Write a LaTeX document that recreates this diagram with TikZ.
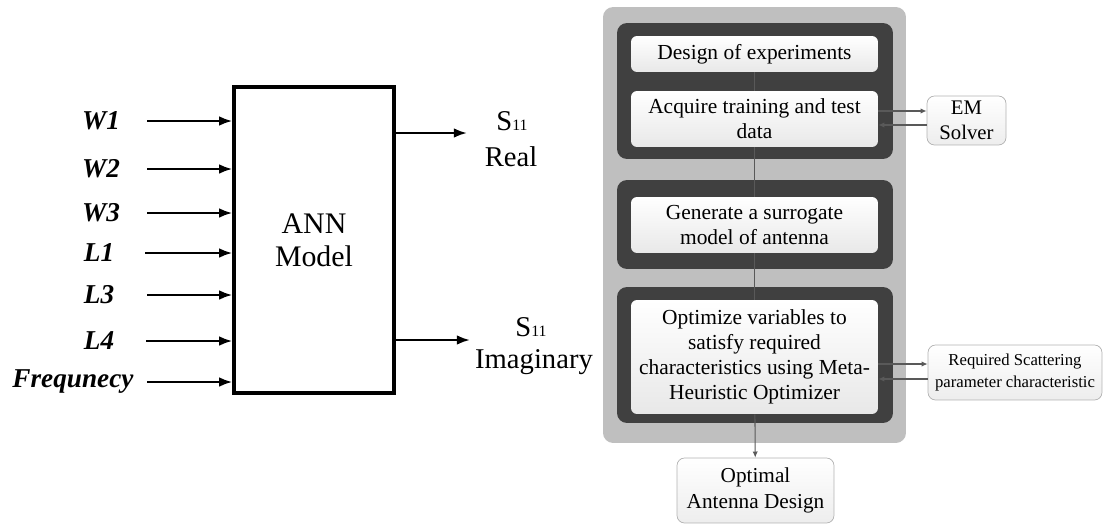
\documentclass[tikz,border=0pt]{standalone}
\usepackage{fontspec}
\setmainfont{Liberation Serif}
\usetikzlibrary{arrows.meta}

\begin{document}
\begin{tikzpicture}[x=0.02cm, y=-0.02cm]
			\tikzset{fleche/.style={>={Latex[length=7.5pt, width=5.5pt]}, ->, line width=1.3pt},
				entree/.style={font=\fontsize{15.5}{18}\selectfont\bfseries\itshape},
				sortie/.style={font=\fontsize{16.3}{19}\selectfont},
				panneau/.style={rectangle, rounded corners=0.2cm, fill=black!25, inner sep=0pt},
				bloc/.style={rectangle, rounded corners=0.2cm, fill=black!75, inner sep=0pt},
				etape/.style={rectangle, rounded corners=0.12cm, top color=white, bottom color=black!9, inner sep=0pt, minimum width=4.94cm, align=center, font=\fontsize{12.2}{14.2}\selectfont},
				externe/.style={rectangle, rounded corners=0.15cm, draw=black!30, top color=white, bottom color=black!7, inner sep=0pt, align=center},
				lien/.style={draw=black!65, line width=0.6pt},
				petite/.style={>={Latex[length=3.5pt, width=3pt]}, ->, draw=black!65, line width=0.6pt}};
			\useasboundingbox (0,0) rectangle (1103,524);

			% modele ANN
			\node[draw, line width=2.2pt, minimum width=3.19cm, minimum height=6.13cm, align=center, font=\fontsize{17}{18.7}\selectfont] (ann) at (314,240) {ANN\\Model};

			\node[entree] (lW1) at (101,121) {W1};
			\node[entree] (lW2) at (101,169) {W2};
			\node[entree] (lW3) at (101,213) {W3};
			\node[entree] (lL1) at ( 99,253) {L1};
			\node[entree] (lL3) at ( 99,295) {L3};
			\node[entree] (lL4) at ( 99,341) {L4};
			\node[entree] (lF)  at ( 73,382) {Frequnecy};

			\coordinate (dW1) at (147,121);
			\coordinate (dW2) at (147,169);
			\coordinate (dW3) at (147,213);
			\coordinate (dL1) at (145,253);
			\coordinate (dL3) at (147,295);
			\coordinate (dL4) at (146,341);
			\coordinate (dF)  at (147,382);

			\draw[fleche] (dW1) -- (dW1 -| ann.west);
			\draw[fleche] (dW2) -- (dW2 -| ann.west);
			\draw[fleche] (dW3) -- (dW3 -| ann.west);
			\draw[fleche] (dL1) -- (dL1 -| ann.west);
			\draw[fleche] (dL3) -- (dL3 -| ann.west);
			\draw[fleche] (dL4) -- (dL4 -| ann.west);
			\draw[fleche] (dF) -- (dF -| ann.west);

			\coordinate (sRe) at (467,133);
			\coordinate (sIm) at (470,340);
			\draw[fleche] (sRe -| ann.east) -- (sRe);
			\draw[fleche] (sIm -| ann.east) -- (sIm);

			\node[sortie] (s1) at (512,121) {S\lower0.5pt\hbox{\fontsize{9}{9}\selectfont 11}};
			\node[sortie] (re) at (511,157) {Real};
			\node[sortie] (s2) at (531,327) {S\lower0.5pt\hbox{\fontsize{9}{9}\selectfont 11}};
			\node[sortie] (im) at (534,362) {Imaginary};

			% organigramme
			\node[panneau, minimum width=6.06cm, minimum height=8.72cm] (pan) at (754.5,225) {};
			\node[bloc, minimum width=5.52cm, minimum height=2.72cm] (b1) at (755,91) {};
			\node[bloc, minimum width=5.52cm, minimum height=1.78cm] (b2) at (755,224.5) {};
			\node[bloc, minimum width=5.52cm, minimum height=2.72cm] (b3) at (755,355) {};

			\node[etape, minimum height=0.72cm] (doe) at (754.5,54) {Design of experiments};
			\node[etape, minimum height=1.12cm] (acq) at (754.5,119) {Acquire training and test\\data};
			\node[etape, minimum height=1.12cm] (gen) at (754.5,225) {Generate a surrogate\\model of antenna};
			\node[etape, minimum height=2.28cm] (opt) at (754.5,357) {Optimize variables to\\satisfy required\\characteristics using Meta-\\Heuristic Optimizer};

			\node[externe, minimum width=1.58cm, minimum height=0.98cm, font=\fontsize{11.8}{14}\selectfont] (em) at (966.5,120.5) {EM\\Solver};
			\node[externe, minimum width=3.48cm, minimum height=1.1cm, font=\fontsize{9.5}{13}\selectfont] (req) at (1015,372.5) {Required Scattering\\parameter characteristic};
			\node[externe, minimum width=3.14cm, minimum height=1.3cm, font=\fontsize{12.1}{15}\selectfont] (fin) at (755.5,490.5) {Optimal\\Antenna Design};

			\draw[lien] (doe) -- (acq);
			\draw[lien] (acq) -- (gen);
			\draw[lien] (gen) -- (opt);
			\draw[petite] (opt) -- (fin);

			\coordinate (e1) at (900,111);
			\coordinate (e2) at (900,125);
			\coordinate (r1) at (900,364);
			\coordinate (r2) at (900,379);
			\draw[petite] (e1 -| acq.east) -- (e1 -| em.west);
			\draw[petite] (e2 -| em.west) -- (e2 -| acq.east);
			\draw[petite] (r1 -| opt.east) -- (r1 -| req.west);
			\draw[petite] (r2 -| req.west) -- (r2 -| opt.east);

		\end{tikzpicture}
\end{document}
